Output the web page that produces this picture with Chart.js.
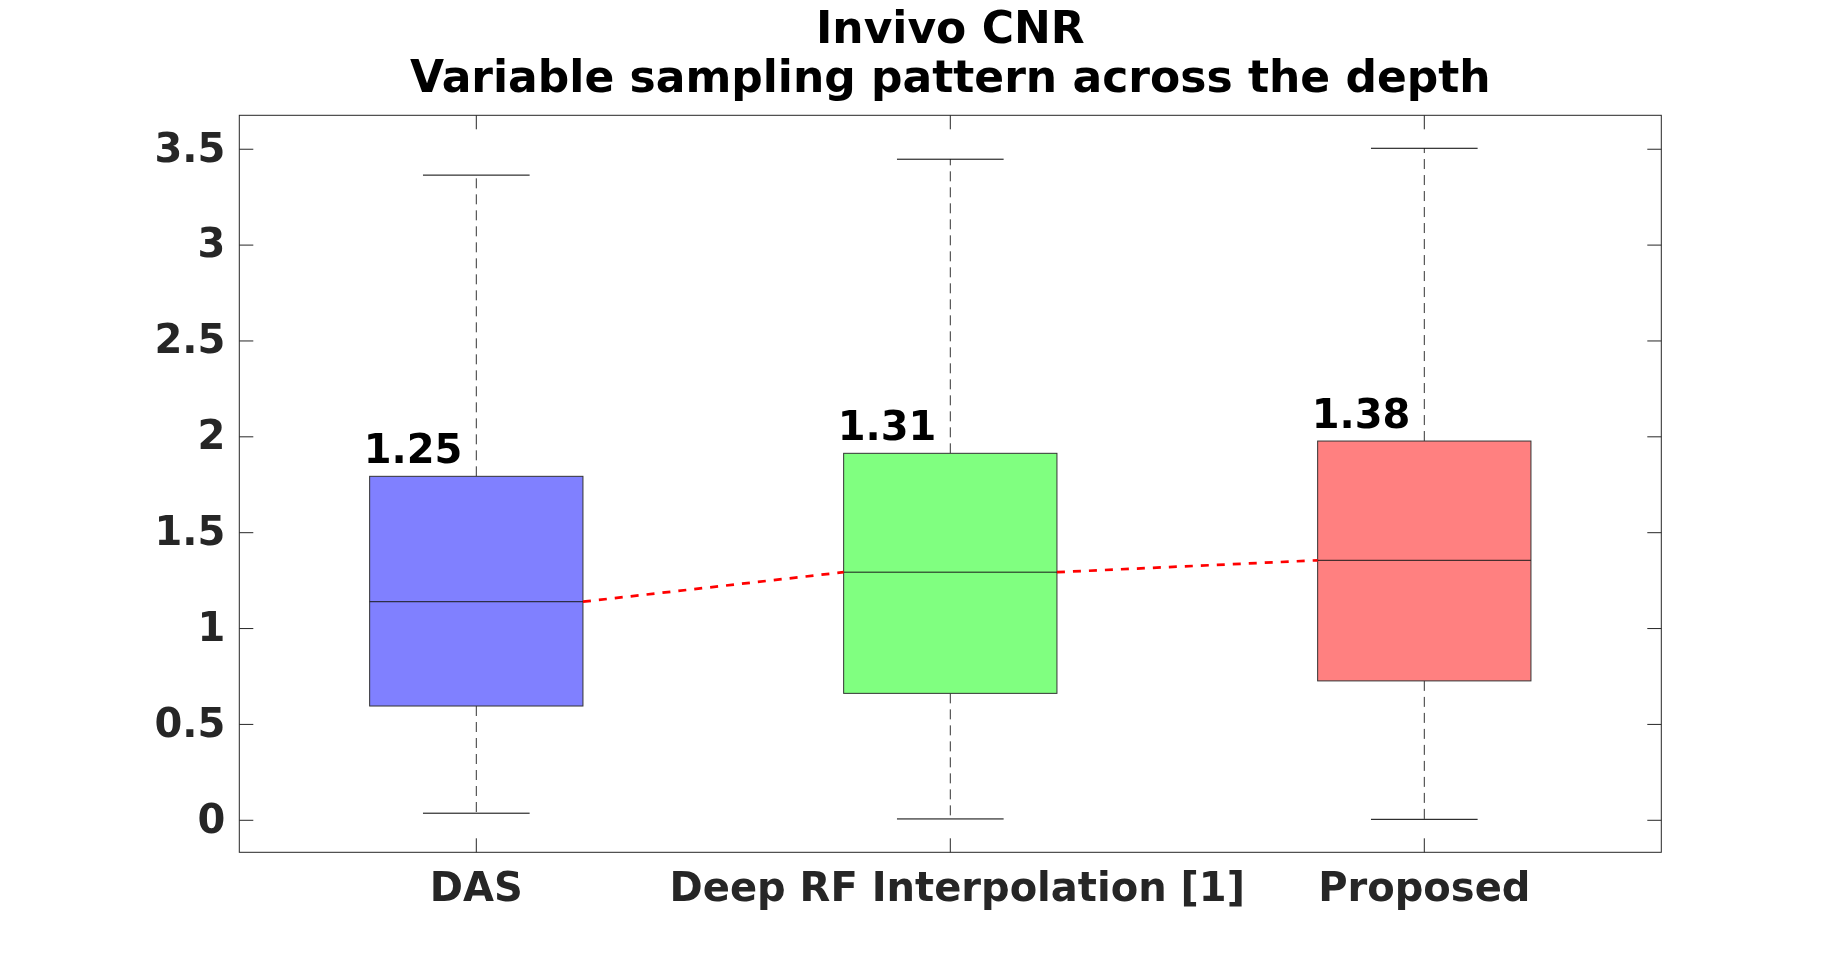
<!DOCTYPE html>
<html>
<head>
<meta charset="utf-8">
<script src="https://cdn.jsdelivr.net/npm/chart.js@4.4.1/dist/chart.umd.min.js"></script>
<style>
  html, body { margin: 0; padding: 0; background: #ffffff; }
  #wrap { width: 1836px; height: 958px; position: relative; }
</style>
</head>
<body>
<div id="wrap"><canvas id="c"></canvas></div>
<script>
// ---- data ----
const titleLines = ['Invivo CNR', 'Variable sampling pattern across the depth'];
const categories = ['DAS', 'Deep RF Interpolation [1]', 'Proposed'];
const xTickLabels = ['DAS', ' Deep RF Interpolation [1]', 'Proposed'];
const whiskerLow  = [0.037, 0.007, 0.005];
const q1Values    = [0.596, 0.662, 0.727];
const medians     = [1.140, 1.294, 1.356];
const q3Values    = [1.794, 1.914, 1.978];
const whiskerHigh = [3.365, 3.448, 3.505];
const meanLabels  = ['1.25', '1.31', '1.38'];
const yTickValues = [0, 0.5, 1, 1.5, 2, 2.5, 3, 3.5];
const yTickLabels = ['0', '0.5', '1', '1.5', '2', '2.5', '3', '3.5'];
const yRange = [-0.167, 3.677];

// ---- styles ----
const boxFill = ['#8080FF', '#80FF80', '#FF8080'];
const BOX_HALF = 0.225;   // half box width in category units
const CAP_HALF = 0.1125;  // half whisker cap width
const FONT = "'DejaVu Sans', sans-serif";
const AXIS_COLOR = '#262626';

// median connector (edge of one box to edge of next)
const connector = [];
for (let i = 0; i < medians.length - 1; i++) {
  connector.push({ x: i + 1 + BOX_HALF, y: medians[i] });
  connector.push({ x: i + 2 - BOX_HALF, y: medians[i + 1] });
  if (i < medians.length - 2) connector.push({ x: i + 2, y: null });
}

const boxPlugin = {
  id: 'boxPlugin',
  beforeDatasetsDraw(chart) {
    const ctx = chart.ctx, xs = chart.scales.x, ys = chart.scales.y;
    ctx.save();
    for (let i = 0; i < categories.length; i++) {
      const c = i + 1;
      const xl = xs.getPixelForValue(c - BOX_HALF);
      const xr = xs.getPixelForValue(c + BOX_HALF);
      const xc = xs.getPixelForValue(c);
      const cl = xs.getPixelForValue(c - CAP_HALF);
      const cr = xs.getPixelForValue(c + CAP_HALF);
      const yq1 = ys.getPixelForValue(q1Values[i]);
      const yq3 = ys.getPixelForValue(q3Values[i]);
      const ymed = ys.getPixelForValue(medians[i]);
      const ylo = ys.getPixelForValue(whiskerLow[i]);
      const yhi = ys.getPixelForValue(whiskerHigh[i]);
      // whiskers (dashed)
      ctx.strokeStyle = '#333333';
      ctx.lineWidth = 1;
      ctx.setLineDash([10, 6]);
      ctx.beginPath();
      ctx.moveTo(xc, yq3); ctx.lineTo(xc, yhi);
      ctx.moveTo(xc, yq1); ctx.lineTo(xc, ylo);
      ctx.stroke();
      ctx.setLineDash([]);
      // caps
      ctx.strokeStyle = '#000000';
      ctx.beginPath();
      ctx.moveTo(cl, yhi); ctx.lineTo(cr, yhi);
      ctx.moveTo(cl, ylo); ctx.lineTo(cr, ylo);
      ctx.stroke();
      // box
      ctx.fillStyle = boxFill[i];
      ctx.fillRect(xl, yq3, xr - xl, yq1 - yq3);
      ctx.strokeStyle = '#333333';
      ctx.strokeRect(xl, yq3, xr - xl, yq1 - yq3);
      // median
      ctx.strokeStyle = '#1a1a1a';
      ctx.beginPath();
      ctx.moveTo(xl, ymed); ctx.lineTo(xr, ymed);
      ctx.stroke();
    }
    ctx.restore();
  },
  afterDatasetsDraw(chart) {
    const ctx = chart.ctx, xs = chart.scales.x, ys = chart.scales.y;
    ctx.save();
    ctx.font = "bold 40px " + FONT;
    ctx.fillStyle = '#000000';
    ctx.textAlign = 'left';
    ctx.textBaseline = 'alphabetic';
    for (let i = 0; i < categories.length; i++) {
      const x = xs.getPixelForValue(i + 1 - BOX_HALF) - 6;
      const y = ys.getPixelForValue(q3Values[i]) - 13;
      ctx.fillText(meanLabels[i], x, y);
    }
    ctx.restore();
  },
  afterDraw(chart) {
    const ctx = chart.ctx, a = chart.chartArea, xs = chart.scales.x, ys = chart.scales.y;
    const T = 14;
    ctx.save();
    ctx.strokeStyle = AXIS_COLOR;
    ctx.lineWidth = 1;
    ctx.strokeRect(a.left, a.top, a.right - a.left, a.bottom - a.top);
    ctx.beginPath();
    yTickValues.forEach(v => {
      const y = ys.getPixelForValue(v);
      ctx.moveTo(a.left, y); ctx.lineTo(a.left + T, y);
      ctx.moveTo(a.right, y); ctx.lineTo(a.right - T, y);
    });
    categories.forEach((_, i) => {
      const x = xs.getPixelForValue(i + 1);
      ctx.moveTo(x, a.bottom); ctx.lineTo(x, a.bottom - T);
      ctx.moveTo(x, a.top); ctx.lineTo(x, a.top + T);
    });
    ctx.stroke();
    ctx.restore();
  }
};

new Chart(document.getElementById('c'), {
  type: 'line',
  data: {
    datasets: [{
      label: 'median trend',
      data: connector,
      borderColor: '#FF0000',
      borderWidth: 2.7,
      borderDash: [8, 8],
      pointRadius: 0,
      fill: false,
      spanGaps: false,
      tension: 0
    }]
  },
  options: {
    responsive: true,
    maintainAspectRatio: false,
    animation: false,
    events: [],
    layout: { padding: { left: 0, right: 174.7, top: 0, bottom: 0 } },
    plugins: {
      legend: { display: false },
      tooltip: { enabled: false },
      title: {
        display: true,
        text: titleLines,
        fullSize: false,
        color: '#000000',
        font: { family: FONT, size: 44, weight: 'bold', lineHeight: 1.1 },
        padding: { top: 7.5, bottom: 11 }
      }
    },
    scales: {
      x: {
        type: 'linear',
        min: 0.5,
        max: 3.5,
        grid: { display: false, drawTicks: false },
        border: { display: false },
        afterBuildTicks: s => { s.ticks = categories.map((_, i) => ({ value: i + 1 })); },
        afterFit: s => { s.height = 105.7; },
        ticks: {
          autoSkip: false,
          maxRotation: 0,
          minRotation: 0,
          padding: 14,
          color: AXIS_COLOR,
          font: { family: FONT, size: 40, weight: 'bold', lineHeight: 1.2 },
          callback: (v) => xTickLabels[Math.round(v) - 1]
        }
      },
      y: {
        type: 'linear',
        min: yRange[0],
        max: yRange[1],
        grid: { display: false, drawTicks: false },
        border: { display: false },
        afterBuildTicks: s => { s.ticks = yTickValues.map(v => ({ value: v })); },
        afterFit: s => { s.width = 239.3; },
        ticks: {
          padding: 14,
          labelOffset: 2,
          color: AXIS_COLOR,
          font: { family: FONT, size: 40, weight: 'bold' },
          callback: (v, idx) => yTickLabels[idx]
        }
      }
    }
  },
  plugins: [boxPlugin]
});
</script>
</body>
</html>
